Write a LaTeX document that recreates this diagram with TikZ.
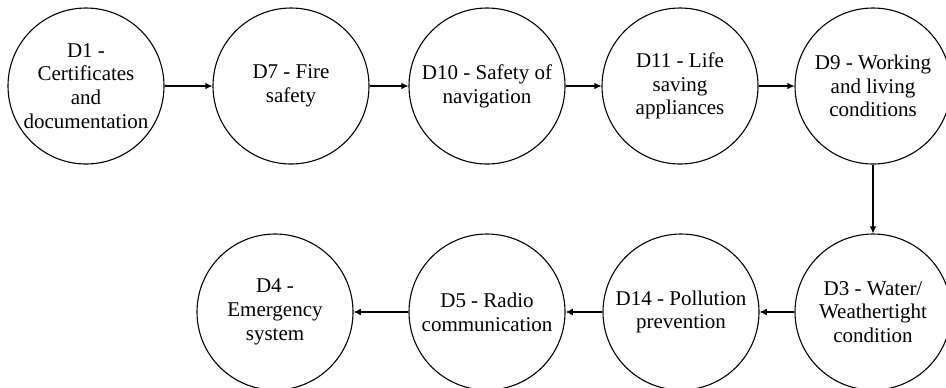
\documentclass[tikz,border=0pt]{standalone}
\usepackage{fontspec}
\setmainfont{Liberation Serif}
\usetikzlibrary{arrows.meta}
\tikzset{
  dnode/.style={draw,circle,minimum size=78pt,inner sep=0pt,align=center,font=\fontsize{10.5}{11.9}\selectfont},
  darrow/.style={-{Latex[length=3.6pt,width=3.4pt]},line width=0.55pt}
}
\begin{document}
\begin{tikzpicture}[x=0.5pt,y=-0.5pt,line width=0.55pt]
\useasboundingbox (0,0) rectangle (946,387);
\foreach \n/\x/\y/\a in {d1/86/86/{D1 -\\Certificates\\and\\documentation},d7/291/86/{D7 - Fire\\safety},d10/487/86/{D10 - Safety of\\navigation},d11/680/86/{D11 - Life\\saving\\appliances},d9/873/86/{D9 - Working\\and living\\conditions}}{\node[dnode](\n) at (\x,\y){\a};}
\foreach \n/\x/\y/\a in {d3/873/312/{D3 - Water/\\Weathertight\\condition},d14/681/312/{D14 - Pollution\\prevention},d5/487/312/{D5 - Radio\\communication},d4/275/312/{D4 -\\Emergency\\system}}{\node[dnode](\n) at (\x,\y){\a};}
\foreach \a/\b in {d1/d7,d7/d10,d10/d11,d11/d9,d9/d3,d3/d14,d14/d5,d5/d4}{\draw[darrow](\a)--(\b);}
\end{tikzpicture}
\end{document}
